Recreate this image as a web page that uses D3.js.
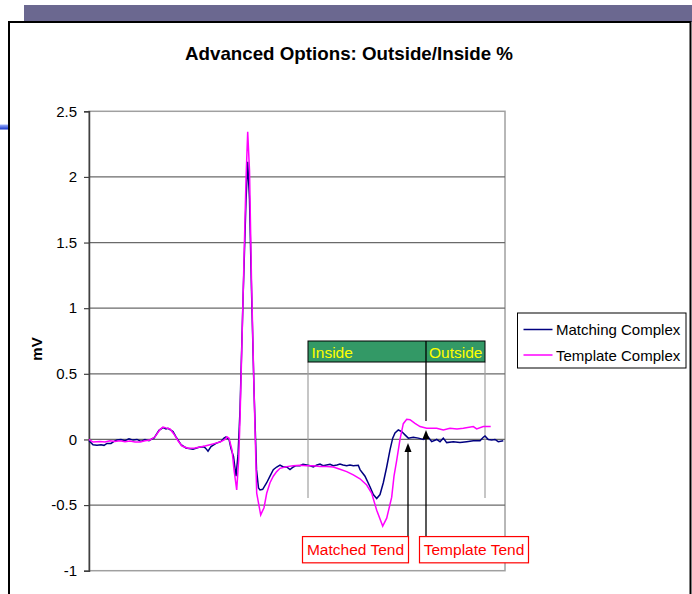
<!DOCTYPE html>
<html><head><meta charset="utf-8">
<script src="https://cdn.jsdelivr.net/npm/d3@7"></script>
<style>
html,body{margin:0;padding:0;background:#fff;}
svg{display:block;font-family:"Liberation Sans",Arial,sans-serif;}
</style></head>
<body>
<script>
// ---- data (t = sample index, v = mV) ----
const chartTitle = "Advanced Options: Outside/Inside %";
const yAxisTitle = "mV";
const seriesNames = ["Matching Complex", "Template Complex"];
const yTickValues = [2.5, 2, 1.5, 1, 0.5, 0, -0.5, -1];
const yTickLabels = ["2.5", "2", "1.5", "1", "0.5", "0", "-0.5", "-1"];

const matchingComplex = [
 [0,-0.01],[4,-0.04],[8,-0.045],[12,-0.04],[15,-0.045],[18,-0.03],[22,-0.03],[25,-0.015],[28,-0.005],[32,0],
 [36,-0.01],[40,0.005],[44,-0.005],[48,0],[52,-0.015],[56,0],[60,-0.01],[63,0.005],[65,0.01],[70,0.07],
 [74,0.09],[77,0.08],[79,0.085],[84,0.06],[87,0.02],[92,-0.04],[97,-0.065],[104,-0.075],[110,-0.06],[115,-0.055],
 [117,-0.07],[119,-0.09],[122,-0.055],[127,-0.03],[132,-0.015],[135,0.01],[137,0.02],[140,0],[142,-0.07],[144.5,-0.13],
 [147,-0.28],[149,-0.12],[151,0.22],[154,1.06],[157,1.82],[158.7,2.116],[160.5,1.83],[162.5,1.14],[165,0.38],[167.5,-0.23],
 [169.5,-0.37],[171,-0.385],[173.7,-0.38],[177.7,-0.33],[181,-0.28],[184.3,-0.23],[187.7,-0.21],[191,-0.195],[194.3,-0.21],[197.7,-0.21],
 [201,-0.23],[204.3,-0.21],[207,-0.2],[211,-0.2],[214,-0.19],[217.7,-0.195],[221,-0.2],[224.3,-0.21],[228,-0.195],[231,-0.187],
 [234,-0.2],[237.7,-0.195],[241,-0.19],[244.3,-0.2],[248,-0.195],[251,-0.187],[254,-0.195],[257.7,-0.2],[261,-0.195],[264.3,-0.2],
 [269.3,-0.197],[271,-0.23],[276,-0.28],[281,-0.36],[284.3,-0.42],[287.7,-0.45],[291,-0.42],[294.3,-0.33],[297.7,-0.21],[301,-0.08],
 [303.7,0.01],[306,0.05],[309.3,0.072],[312.7,0.06],[316,0.035],[319.3,0.01],[324.3,0.017],[329.3,0.01],[334.3,0],[339.3,0.017],
 [342.7,-0.017],[347.7,0],[351,-0.017],[354.3,0.01],[357.7,-0.024],[364.3,-0.017],[371,-0.024],[377.7,-0.017],[384.3,-0.01],[391,-0.01],
 [394.3,0.017],[396,0.027],[399.3,0],[402.7,-0.005],[406,0],[409.3,-0.017],[414.3,-0.01]
];

const templateComplex = [
 [0,0],[4,-0.02],[11,-0.015],[16,-0.02],[21,-0.01],[26,-0.015],[31,-0.01],[36,-0.018],[41,-0.012],[46,-0.02],
 [51,-0.02],[56,-0.01],[61,-0.005],[66,0.02],[71,0.075],[74,0.095],[77,0.088],[81,0.08],[85,0.04],[89,-0.01],
 [93,-0.05],[99,-0.067],[106,-0.065],[111,-0.057],[116,-0.05],[121,-0.04],[126,-0.03],[131,-0.02],[136,0],[138,0.02],
 [140,0.01],[143,-0.08],[145,-0.23],[147.7,-0.385],[149.7,-0.15],[151,0.15],[154,1.06],[157,1.98],[158.7,2.344],[160.5,2.05],
 [162.5,1.21],[165,0.38],[167.7,-0.41],[171.7,-0.575],[175,-0.52],[177.7,-0.41],[181,-0.33],[184.3,-0.28],[187.7,-0.245],[191,-0.22],
 [197.7,-0.207],[204.3,-0.2],[211,-0.197],[217.7,-0.2],[224.3,-0.2],[231,-0.207],[237.7,-0.207],[244.3,-0.21],[251,-0.227],[257.7,-0.245],
 [264.3,-0.27],[271,-0.3],[277.7,-0.347],[282.7,-0.41],[287.7,-0.54],[293.7,-0.66],[297.7,-0.6],[302.7,-0.44],[305,-0.28],[307.7,-0.16],
 [311,0],[314.3,0.12],[317.7,0.154],[321,0.15],[326,0.123],[331,0.098],[337.7,0.085],[347.7,0.085],[354.3,0.072],[361,0.085],
 [368,0.08],[374.3,0.085],[384.3,0.098],[387.7,0.08],[394.3,0.098],[401.7,0.098]
];

// annotation anchors (data units)
const insideStart = 219, insideEnd = 337, outsideEnd = 396;
const matchedTend = 319, templateTend = 337;
const bandTop = 0.75, bandBottom = 0.59, guideBottom = -0.446;
const matchedTendTip = -0.027, templateTendTip = 0.072, dividerBottom = 0.14;
const calloutTop = -0.74, calloutBottom = -0.94;

// ---- drawing ----
const W = 692, H = 594;
const svg = d3.select("body").append("svg").attr("width", W).attr("height", H);

// decorations
svg.append("rect").attr("x", 24).attr("y", 5).attr("width", W - 24).attr("height", 17).attr("fill", "#6b6890");
svg.append("rect").attr("x", 9).attr("y", 22).attr("width", 681.5).attr("height", 620)
  .attr("fill", "#fff").attr("stroke", "#000").attr("stroke-width", 2);
const grad = svg.append("defs").append("linearGradient").attr("id", "bg").attr("x1", 0).attr("y1", 0).attr("x2", 0).attr("y2", 1);
grad.append("stop").attr("offset", "0").attr("stop-color", "#9fb4ff");
grad.append("stop").attr("offset", "1").attr("stop-color", "#1432c8");
svg.append("rect").attr("x", 0).attr("y", 124.5).attr("width", 8).attr("height", 5).attr("fill", "url(#bg)");

const x = d3.scaleLinear().domain([0, 416]).range([89, 505]);
const y = d3.scaleLinear().domain([-1, 2.5]).range([570.7, 111.3]);

// title
svg.append("text").attr("x", 349).attr("y", 60).attr("text-anchor", "middle")
  .attr("font-size", 19).attr("font-weight", "bold")
  .attr("textLength", 328).attr("lengthAdjust", "spacingAndGlyphs").text(chartTitle);

// plot border
svg.append("rect").attr("x", x(0)).attr("y", y(2.5)).attr("width", x(416) - x(0)).attr("height", y(-1) - y(2.5))
  .attr("fill", "none").attr("stroke", "#a0a0a0").attr("stroke-width", 1.5);

// gridlines
svg.append("g").selectAll("line").data(yTickValues.filter(v => v > -1 && v < 2.5)).join("line")
  .attr("x1", x(0)).attr("x2", x(416)).attr("y1", d => y(d)).attr("y2", d => y(d))
  .attr("stroke", "#6a6a6a").attr("stroke-width", 1.2);

// y axis
const yAxis = d3.axisLeft(y).tickValues(yTickValues).tickSize(5).tickPadding(7)
  .tickFormat((d, i) => yTickLabels[i]);
const ga = svg.append("g").attr("transform", `translate(${x(0)},0)`).call(yAxis);
ga.select(".domain").attr("stroke", "#404040").attr("stroke-width", 1.5);
ga.selectAll(".tick line").attr("stroke", "#404040").attr("stroke-width", 1.2);
ga.selectAll(".tick text").attr("font-size", 15).attr("fill", "#000")
  .attr("font-family", '"Liberation Sans",Arial,sans-serif');

svg.append("text").attr("transform", `translate(42,${(y(2.5) + y(-1)) / 2 + 8}) rotate(-90)`)
  .attr("text-anchor", "middle").attr("font-size", 15).attr("font-weight", "bold").text(yAxisTitle);

// inside/outside band
svg.append("g").selectAll("line").data([insideStart, outsideEnd]).join("line")
  .attr("x1", d => x(d)).attr("x2", d => x(d)).attr("y1", y(bandBottom)).attr("y2", y(guideBottom))
  .attr("stroke", "#a0a0a0").attr("stroke-width", 1.2);
svg.append("rect").attr("x", x(insideStart)).attr("y", y(bandTop))
  .attr("width", x(outsideEnd) - x(insideStart)).attr("height", y(bandBottom) - y(bandTop))
  .attr("fill", "#339966").attr("stroke", "#000").attr("stroke-width", 1);
svg.append("line").attr("x1", x(insideEnd)).attr("x2", x(insideEnd)).attr("y1", y(bandTop)).attr("y2", y(dividerBottom))
  .attr("stroke", "#000").attr("stroke-width", 1.3);
svg.append("text").attr("x", x(insideStart) + 3.5).attr("y", y(bandBottom) - 4.5).attr("font-size", 15.5).attr("fill", "#ffff00").text("Inside");
svg.append("text").attr("x", x(insideEnd) + 3).attr("y", y(bandBottom) - 4.5).attr("font-size", 15.5).attr("fill", "#ffff00").text("Outside");

// series
const line = d3.line().x(d => x(d[0])).y(d => y(d[1]));
svg.append("path").datum(matchingComplex).attr("d", line).attr("fill", "none").attr("stroke", "#000080").attr("stroke-width", 1.5);
svg.append("path").datum(templateComplex).attr("d", line).attr("fill", "none").attr("stroke", "#ff00ff").attr("stroke-width", 1.5);

// T-end arrows & callouts
const callouts = [
  {t: matchedTend, tip: matchedTendTip, label: "Matched Tend", x0: x(matchedTend) - 105.5, x1: x(matchedTend) + 0.5},
  {t: templateTend, tip: templateTendTip, label: "Template Tend", x0: x(templateTend) - 6.5, x1: x(templateTend) + 102.5}
];
callouts.forEach(c => {
  const cx = x(c.t), ty = y(c.tip);
  svg.append("line").attr("x1", cx).attr("x2", cx).attr("y1", y(calloutTop)).attr("y2", ty + 6)
    .attr("stroke", "#000").attr("stroke-width", 1.3);
  svg.append("path").attr("d", `M${cx},${ty} L${cx - 3.5},${ty + 9} L${cx + 3.5},${ty + 9} Z`).attr("fill", "#000");
  svg.append("rect").attr("x", c.x0).attr("y", y(calloutTop)).attr("width", c.x1 - c.x0).attr("height", y(calloutBottom) - y(calloutTop))
    .attr("fill", "#fff").attr("stroke", "#ff0000").attr("stroke-width", 1.2);
  svg.append("text").attr("x", (c.x0 + c.x1) / 2).attr("y", y(calloutTop) + 18.5).attr("text-anchor", "middle")
    .attr("font-size", 15.5).attr("fill", "#ff0000").text(c.label);
});

// legend
const lg = svg.append("g").attr("transform", "translate(517.5,313)");
lg.append("rect").attr("width", 168.5).attr("height", 55).attr("fill", "#fff").attr("stroke", "#000").attr("stroke-width", 1);
const colors = ["#000080", "#ff00ff"];
seriesNames.forEach((n, i) => {
  const yy = 16.5 + i * 25.5;
  lg.append("line").attr("x1", 6).attr("x2", 35).attr("y1", yy).attr("y2", yy).attr("stroke", colors[i]).attr("stroke-width", 1.5);
  lg.append("text").attr("x", 38.5).attr("y", yy + 5.5).attr("font-size", 15).attr("fill", "#000").text(n);
});
</script>
</body></html>
